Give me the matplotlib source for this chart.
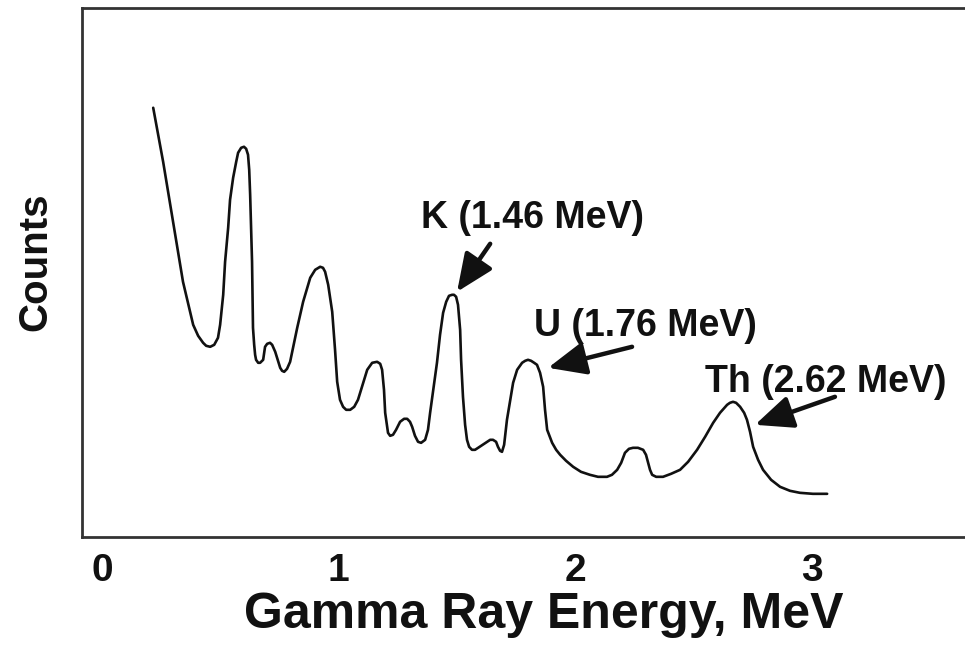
import matplotlib
matplotlib.use("Agg")
import matplotlib.pyplot as plt

# gamma ray spectrum, energy in MeV and counts in arbitrary units
energy = [0.216, 0.258, 0.300, 0.342, 0.385, 0.406, 0.427, 0.440, 0.457, 0.474,
          0.490, 0.499, 0.512, 0.520, 0.533, 0.541, 0.554, 0.567, 0.575, 0.588,
          0.600, 0.609, 0.617, 0.622, 0.626, 0.634, 0.638, 0.643, 0.647, 0.651,
          0.660, 0.668, 0.681, 0.689, 0.698, 0.710, 0.719, 0.732, 0.753, 0.761,
          0.770, 0.782, 0.795, 0.825, 0.850, 0.880, 0.901, 0.922, 0.934, 0.943,
          0.956, 0.973, 0.985, 0.994, 1.006, 1.019, 1.032, 1.049, 1.066, 1.082,
          1.099, 1.121, 1.142, 1.163, 1.176, 1.184, 1.192, 1.197, 1.209, 1.218,
          1.230, 1.243, 1.260, 1.277, 1.290, 1.302, 1.311, 1.323, 1.336, 1.349,
          1.366, 1.378, 1.387, 1.416, 1.429, 1.442, 1.455, 1.467, 1.480, 1.488,
          1.497, 1.505, 1.514, 1.518, 1.526, 1.535, 1.543, 1.552, 1.564, 1.577,
          1.590, 1.628, 1.641, 1.653, 1.666, 1.674, 1.683, 1.691, 1.700, 1.712,
          1.738, 1.755, 1.776, 1.789, 1.801, 1.814, 1.827, 1.839, 1.852, 1.865,
          1.873, 1.882, 1.903, 1.920, 1.937, 1.962, 1.992, 2.025, 2.063, 2.097,
          2.135, 2.156, 2.178, 2.195, 2.211, 2.228, 2.245, 2.266, 2.288, 2.300,
          2.309, 2.317, 2.326, 2.343, 2.372, 2.406, 2.444, 2.478, 2.516, 2.550,
          2.584, 2.613, 2.643, 2.655, 2.668, 2.681, 2.698, 2.715, 2.727, 2.740,
          2.753, 2.774, 2.795, 2.829, 2.867, 2.909, 2.951, 3.006, 3.066]
counts = [429, 375, 315, 255, 212, 201, 194, 191, 190, 192,
          199, 212, 242, 275, 309, 337, 359, 375, 384, 389,
          390, 388, 382, 367, 342, 275, 209, 192, 182, 177,
          174, 174, 177, 190, 193, 194, 192, 185, 169, 166,
          165, 168, 175, 209, 235, 259, 267, 270, 269, 265,
          252, 225, 187, 155, 137, 130, 127, 127, 130, 137,
          150, 167, 174, 175, 173, 167, 147, 124, 104, 101,
          102, 107, 115, 118, 118, 115, 110, 101, 95, 94,
          97, 107, 124, 174, 202, 224, 235, 241, 242, 242,
          240, 232, 207, 177, 140, 112, 97, 90, 87, 87,
          89, 95, 97, 97, 95, 90, 86, 85, 92, 117,
          154, 167, 174, 176, 177, 176, 174, 172, 164, 150,
          127, 107, 94, 87, 82, 76, 70, 65, 62, 60,
          60, 62, 67, 74, 84, 88, 89, 89, 87, 82,
          74, 67, 62, 60, 60, 63, 67, 75, 87, 100,
          114, 124, 132, 134, 135, 134, 130, 124, 117, 105,
          90, 77, 67, 57, 50, 46, 44, 43, 43]

# labelled peaks: text, label position, arrow tail, arrow head
peak_labels = ["K (1.46 MeV)", "U (1.76 MeV)", "Th (2.62 MeV)"]
label_xy = [(1.818, 319), (2.296, 211), (3.061, 155)]
tail_xy = [(1.641, 293), (2.241, 190), (3.099, 140)]
head_xy = [(1.501, 245), (1.886, 169), (2.761, 112)]

ticks = [0, 1, 2, 3]

ink = "#111111"
font = "Liberation Sans"

fig = plt.figure(figsize=(9.65, 6.46), dpi=100)
ax = fig.add_axes([0.085, 0.169, 0.915, 0.819])

ax.plot(energy, counts, color=ink, lw=1.9, solid_joinstyle="round",
        solid_capstyle="round")

for txt, lxy, txy, hxy in zip(peak_labels, label_xy, tail_xy, head_xy):
    ax.text(lxy[0], lxy[1], txt, ha="center", va="center", fontsize=27,
            fontweight="bold", family=font, color=ink)
    ax.annotate("", xy=hxy, xytext=txy,
                arrowprops=dict(arrowstyle="-|>,head_length=1.15,head_width=0.5",
                                color=ink, lw=3.2, mutation_scale=20,
                                shrinkA=0, shrinkB=0))

ax.set_xlim(-0.085, 3.649)
ax.set_ylim(0, 529)
ax.set_xticks(ticks)
ax.set_xticklabels([str(t) for t in ticks], fontsize=28, fontweight="bold",
                   family=font, color=ink)
ax.set_yticks([])
ax.tick_params(axis="x", length=0, pad=12)

ax.spines["right"].set_visible(False)
for side in ["top", "left", "bottom"]:
    ax.spines[side].set_linewidth(2)
    ax.spines[side].set_color("#333333")

ax.set_xlabel("Gamma Ray Energy, MeV", fontsize=36, fontweight="bold",
              family=font, color=ink, va="center")
ax.xaxis.set_label_coords(0.523, -0.148)
ax.set_ylabel("Counts", fontsize=29, fontweight="bold", family=font,
              color=ink, va="center")
ax.yaxis.set_label_coords(-0.053, 0.52)

fig.savefig("out.png", dpi=100)
